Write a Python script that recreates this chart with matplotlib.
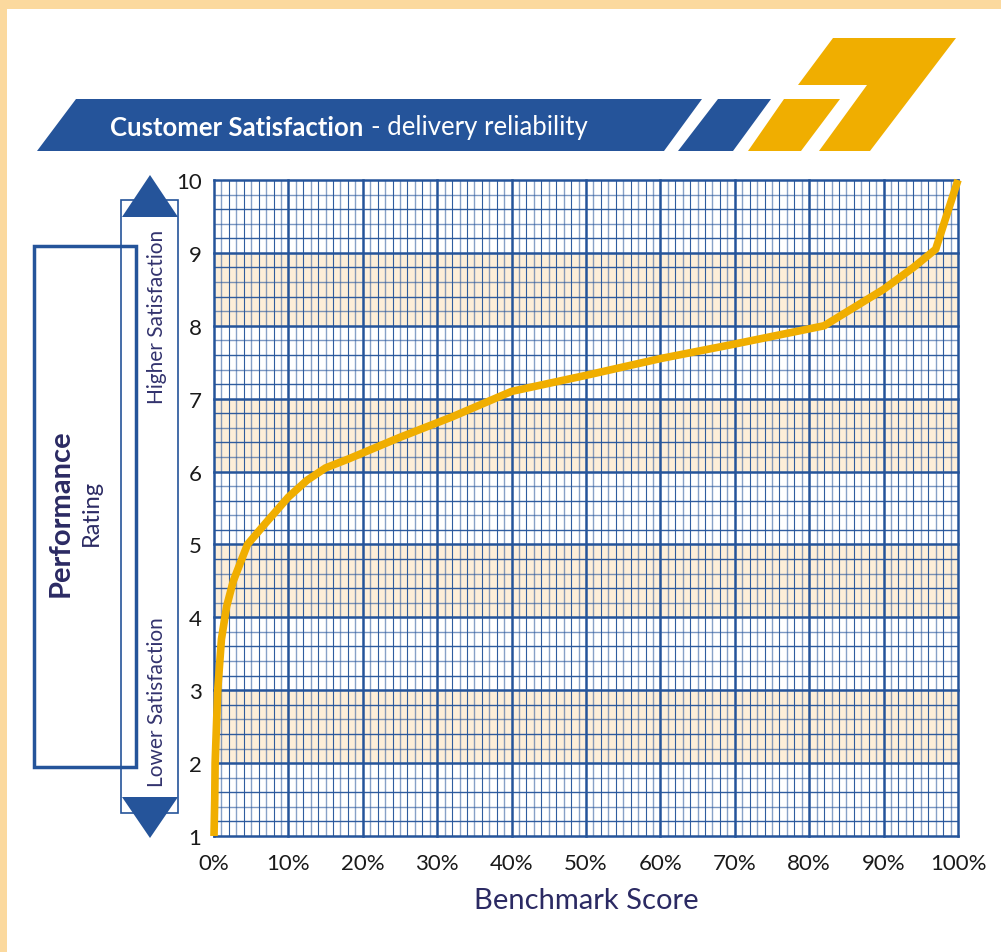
import numpy as np
import matplotlib
matplotlib.use("Agg")
import matplotlib.pyplot as plt
from matplotlib.patches import Polygon, Rectangle

# benchmark curve: percentage of benchmark vs performance rating
score_pct = [0, 0.1, 0.15, 0.5, 1.0, 1.7, 2.6, 4.5, 7, 10, 12.5, 15, 18, 25,
             32, 40, 50, 60, 70, 82, 86, 90, 94, 97, 100]
rating = [1.0, 1.5, 2.0, 3.0, 3.7, 4.15, 4.5, 5.0, 5.3, 5.65, 5.88, 6.05, 6.17,
          6.47, 6.75, 7.1, 7.32, 7.55, 7.75, 8.0, 8.25, 8.5, 8.8, 9.05, 10.0]

x_ticks = list(range(0, 101, 10))
x_tick_labels = [f"{v}%" for v in x_ticks]
y_ticks = list(range(1, 11))
shaded_bands = [(2, 3), (4, 5), (6, 7), (8, 9)]

BLUE = "#25549a"
GOLD = "#f0ae00"
NAVY = "#2b2a63"
BAND = "#fdeed8"
EDGE = "#fbd99e"

W, H = 1001, 953
fig = plt.figure(figsize=(W / 100, H / 100), dpi=100)
fig.patch.set_facecolor("white")


def px(x, y):
    # pixel position (from top-left) to figure fraction
    return (x / W, 1 - y / H)


def poly(points, **kw):
    fig.patches.append(Polygon([px(*p) for p in points], closed=True,
                               transform=fig.transFigure, **kw))


# pale orange border along top and left
fig.patches.append(Rectangle((0, 1 - 10 / H), 1, 10 / H, transform=fig.transFigure,
                             color=EDGE, lw=0))
fig.patches.append(Rectangle((0, 0), 7 / W, 1, transform=fig.transFigure,
                             color=EDGE, lw=0))

# header banner
poly([(76, 100), (702, 100), (664, 152), (37, 152)], color=BLUE, lw=0)
poly([(718, 100), (771, 100), (733, 152), (678, 152)], color=BLUE, lw=0)
poly([(784, 100), (840, 100), (801, 152), (748, 152)], color=GOLD, lw=0)
poly([(833, 39), (956, 39), (870, 152), (819, 152), (867, 86), (798, 86)],
     color=GOLD, lw=0)

title_bold = fig.text(*px(110, 128), "Customer Satisfaction", color="white",
                      fontsize=18.5, fontweight="bold", family="Lato",
                      va="center", ha="left")
fig.canvas.draw()
bb = title_bold.get_window_extent()
fig.text((bb.x1 + 8) / W, 1 - 128 / H, "- delivery reliability", color="white",
         fontsize=18.5, family="Lato", va="center", ha="left")

# main grid chart
ax = fig.add_axes([214 / W, (H - 837) / H, 744 / W, 656 / H])
ax.set_xlim(0, 100)
ax.set_ylim(1, 10)
for lo, hi in shaded_bands:
    ax.axhspan(lo, hi, color=BAND, lw=0, zorder=0)

for v in np.arange(0, 100.5, 1):
    if v % 10 == 0:
        continue
    ax.axvline(v, color=BLUE, lw=1.0 if v % 2 else 0.8,
               alpha=0.55 if v % 2 else 0.95, zorder=1)
for v in np.arange(1, 10.01, 0.2):
    if abs(v - round(v)) < 1e-6:
        continue
    ax.axhline(v, color=BLUE, lw=1.0, alpha=0.6 if round(v * 5) % 2 else 0.95,
               zorder=1)
for v in x_ticks:
    ax.axvline(v, color=BLUE, lw=1.8, zorder=2, clip_on=False)
for v in y_ticks:
    ax.axhline(v, color=BLUE, lw=1.8, zorder=2, clip_on=False)

ax.plot(score_pct, rating, color=GOLD, lw=5.5, solid_capstyle="butt",
        solid_joinstyle="round", zorder=3, clip_on=False)

for s in ax.spines.values():
    s.set_visible(False)
tick_font = dict(family="Lato", fontsize=16, color="#1a1a1a")
ax.set_xticks(x_ticks)
ax.set_xticklabels(x_tick_labels, **tick_font)
ax.set_yticks(y_ticks)
ax.set_yticklabels([str(v) for v in y_ticks], **tick_font)
ax.tick_params(length=0, pad=9)
ax.tick_params(axis="x", pad=12)
ax.set_xlabel("Benchmark Score", family="Lato", fontsize=21, color=NAVY,
              labelpad=10)

# left side rating legend
fig.patches.append(Rectangle(px(34, 768), 102 / W, 521 / H, transform=fig.transFigure,
                             fill=False, edgecolor=BLUE, lw=2.5))
fig.patches.append(Rectangle(px(121, 814), 57 / W, 613 / H, transform=fig.transFigure,
                             fill=False, edgecolor=BLUE, lw=1.2))
poly([(150, 176), (178, 218), (122, 218)], color=BLUE, lw=0)
poly([(122, 798), (178, 798), (150, 839)], color=BLUE, lw=0)

fig.text(*px(157, 317), "Higher Satisfaction", rotation=90, ha="center",
         va="center", color="#33336e", fontsize=15, family="Lato")
fig.text(*px(157, 702), "Lower Satisfaction", rotation=90, ha="center",
         va="center", color="#33336e", fontsize=15, family="Lato")
fig.text(*px(61, 513), "Performance", rotation=90, ha="center", va="center",
         color=NAVY, fontsize=21, fontweight="bold", family="Lato")
fig.text(*px(91, 513), "Rating", rotation=90, ha="center", va="center",
         color=NAVY, fontsize=17, family="Lato")

fig.savefig("out.png", dpi=100)
